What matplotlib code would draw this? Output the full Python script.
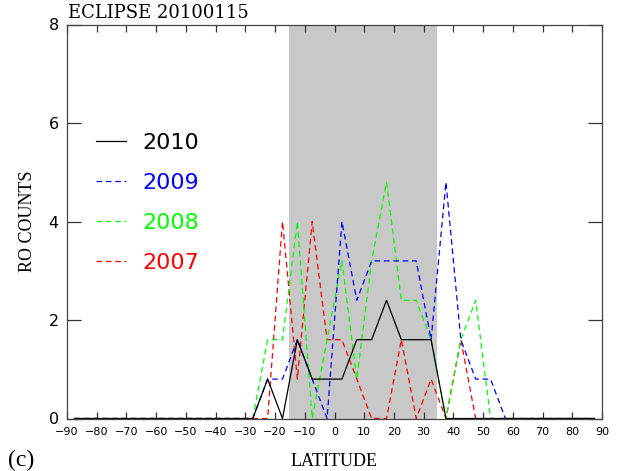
import matplotlib
matplotlib.use("Agg")
import matplotlib.pyplot as plt
from matplotlib.lines import Line2D

# ---- data ----
latitude = [-87.5, -82.5, -77.5, -72.5, -67.5, -62.5, -57.5, -52.5, -47.5, -42.5,
            -37.5, -32.5, -27.5, -22.5, -17.5, -12.5, -7.5, -2.5, 2.5, 7.5,
            12.5, 17.5, 22.5, 27.5, 32.5, 37.5, 42.5, 47.5, 52.5, 57.5,
            62.5, 67.5, 72.5, 77.5, 82.5, 87.5]

counts_2010 = [0, 0, 0, 0, 0, 0, 0, 0, 0, 0,
               0, 0, 0, 0.8, 0, 1.6, 0.8, 0.8, 0.8, 1.6,
               1.6, 2.4, 1.6, 1.6, 1.6, 0, 0, 0, 0, 0,
               0, 0, 0, 0, 0, 0]
counts_2009 = [0, 0, 0, 0, 0, 0, 0, 0, 0, 0,
               0, 0, 0, 0.8, 0.8, 1.6, 0.8, 0, 4.0, 2.4,
               3.2, 3.2, 3.2, 3.2, 1.6, 4.8, 1.6, 0.8, 0.8, 0,
               0, 0, 0, 0, 0, 0]
counts_2008 = [0, 0, 0, 0, 0, 0, 0, 0, 0, 0,
               0, 0, 0, 1.6, 1.6, 4.0, 0, 1.6, 3.2, 0.8,
               3.2, 4.8, 2.4, 2.4, 1.6, 0, 1.6, 2.4, 0, 0,
               0, 0, 0, 0, 0, 0]
counts_2007 = [0, 0, 0, 0, 0, 0, 0, 0, 0, 0,
               0, 0, 0, 0, 4.0, 0.8, 4.0, 1.6, 1.6, 0.8,
               0, 0, 1.6, 0, 0.8, 0, 1.6, 0, 0, 0,
               0, 0, 0, 0, 0, 0]

eclipse_band = [-15.3, 34.4]
x_ticks = list(range(-90, 91, 10))
y_ticks = [0, 2, 4, 6, 8]
title = "ECLIPSE 20100115"

# ---- figure ----
fig = plt.figure(figsize=(6.21, 4.71), dpi=100)
ax = fig.add_axes([67/621, 1 - 418.5/471, 535/621, 394/471])

ax.axvspan(eclipse_band[0], eclipse_band[1], color="#c8c8c8", lw=0, zorder=0)

dash = (0, (4.5, 3))
lw = 0.9
ax.plot(latitude, counts_2007, color="#ff0000", lw=lw, linestyle=dash, zorder=2)
ax.plot(latitude, counts_2008, color="#00ff00", lw=lw, linestyle=dash, zorder=3)
ax.plot(latitude, counts_2009, color="#0000ff", lw=lw, linestyle=dash, zorder=4)
ax.plot(latitude, counts_2010, color="black", lw=lw, linestyle="-", zorder=5)

ax.set_xlim(-90, 90)
ax.set_ylim(0, 8)
ax.set_xticks(x_ticks)
ax.set_yticks(y_ticks)
ax.tick_params(axis="x", direction="in", length=5, width=0.9, color="#333333",
               top=True, bottom=True, labelsize=8, pad=6)
ax.tick_params(axis="y", direction="in", length=10, width=0.9, color="#333333",
               left=True, right=True, labelsize=11.5, pad=6)
for s in ax.spines.values():
    s.set_color("#444444")
    s.set_linewidth(0.9)
    s.set_zorder(6)

ax.set_xlabel("LATITUDE", family="Liberation Serif", fontsize=13, labelpad=12)
ax.set_ylabel("RO COUNTS", family="Liberation Serif", fontsize=13, labelpad=9)

ax.text(0.002, 1.006, title, transform=ax.transAxes, family="DejaVu Serif",
        fontsize=13, ha="left", va="bottom")
fig.text(8/621, 1 - 466/471, "(c)", family="Liberation Serif", fontsize=17,
         ha="left", va="baseline")

handles = [Line2D([], [], color="black", lw=lw, linestyle="-"),
           Line2D([], [], color="#0000ff", lw=lw, linestyle=dash),
           Line2D([], [], color="#00ff00", lw=lw, linestyle=dash),
           Line2D([], [], color="#ff0000", lw=lw, linestyle=dash)]
labels = ["2010", "2009", "2008", "2007"]
leg = ax.legend(handles, labels, loc="upper left", bbox_to_anchor=(0.054, 0.724),
                frameon=False, fontsize=16, handlelength=1.35, handletextpad=0.75,
                labelspacing=0.9, borderpad=0, borderaxespad=0)
for t, c in zip(leg.get_texts(), ["black", "#0000ff", "#00ff00", "#ff0000"]):
    t.set_color(c)

fig.savefig("out.png", dpi=100)
